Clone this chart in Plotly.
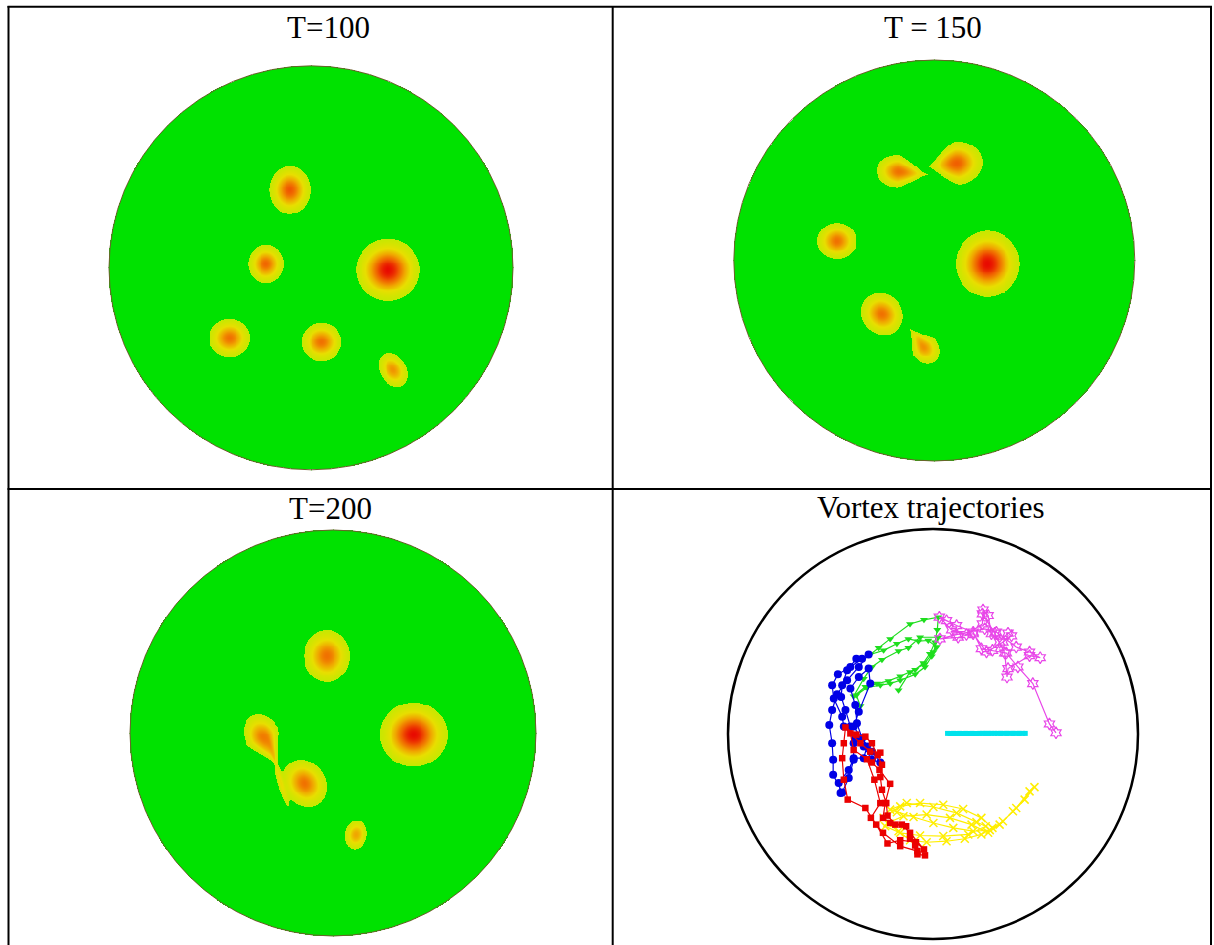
import numpy as np
import plotly.graph_objects as go

W, H = 1214, 945

# ---------------------------------------------------------------------------
# Vortex patches of the three snapshots (disc radius = 1).
# a: front semi-axis along the orientation angle, tail: rear semi-axis,
# b: cross semi-axis, sharp: how strongly the rear side tapers (0 = ellipse),
# peak: maximum vorticity of the patch.
# ---------------------------------------------------------------------------
t100_x = [-0.104, -0.223, 0.381, -0.403, 0.052, 0.406]
t100_y = [0.385, 0.019, -0.011, -0.348, -0.367, -0.505]
t100_a = [0.119, 0.094, 0.158, 0.101, 0.099, 0.090]
t100_tail = [0.119, 0.094, 0.158, 0.101, 0.099, 0.090]
t100_b = [0.101, 0.087, 0.153, 0.094, 0.094, 0.064]
t100_ang = [90, 90, 0, 0, 0, -60]
t100_sharp = [0, 0, 0, 0, 0, 0]
t100_peak = [0.82, 0.78, 1.0, 0.75, 0.75, 0.65]

t150_x = [-0.178, 0.112, -0.485, 0.266, -0.261, -0.052]
t150_y = [0.443, 0.485, 0.097, -0.017, -0.267, -0.432]
t150_a = [0.110, 0.128, 0.098, 0.165, 0.110, 0.090]
t150_tail = [0.150, 0.140, 0.098, 0.165, 0.110, 0.118]
t150_b = [0.082, 0.108, 0.090, 0.158, 0.099, 0.068]
t150_ang = [-6, 187, 0, 90, -45, 127]
t150_sharp = [0.85, 0.6, 0, 0, 0, 0.9]
t150_peak = [0.75, 0.8, 0.75, 1.0, 0.75, 0.66]

# the last T=200 patch is the thin filament trailing from the third one
t200_x = [-0.030, 0.397, -0.345, -0.140, 0.113, -0.262]
t200_y = [0.379, -0.008, -0.020, -0.248, -0.501, -0.222]
t200_a = [0.128, 0.167, 0.118, 0.123, 0.071, 0.120]
t200_tail = [0.128, 0.167, 0.155, 0.123, 0.071, 0.120]
t200_b = [0.113, 0.158, 0.088, 0.103, 0.054, 0.011]
t200_ang = [90, 0, -62, -55, 80, -74]
t200_sharp = [0, 0, 0.8, 0, 0, 0]
t200_peak = [0.75, 1.0, 0.72, 0.75, 0.6, 0.3]

# ---------------------------------------------------------------------------
# Vortex trajectories (disc radius = 1)
# ---------------------------------------------------------------------------
green_x = [-0.354, -0.374, -0.322, -0.257, -0.209, -0.160, -0.087, -0.039, -0.006, 0.018,
           -0.023, -0.071, -0.120, -0.176, -0.241, -0.306, -0.265, -0.209, -0.112, -0.044,
           0.026, 0.021, 0.010, -0.015, -0.047, -0.087, -0.160, -0.217, -0.273, -0.330,
           -0.387, -0.338, -0.298, -0.249, -0.168, -0.120, -0.063, 0.026, 0.002, -0.044,
           -0.112, -0.168]
green_y = [0.136, 0.189, 0.227, 0.238, 0.246, 0.262, 0.291, 0.327, 0.379, 0.424,
           0.456, 0.453, 0.464, 0.440, 0.408, 0.388, 0.421, 0.464, 0.537, 0.557,
           0.570, 0.508, 0.448, 0.392, 0.346, 0.314, 0.282, 0.259, 0.246, 0.230,
           0.184, 0.270, 0.327, 0.362, 0.405, 0.421, 0.472, 0.472, 0.400, 0.340,
           0.303, 0.214]

blue_x = [-0.314, -0.362, -0.419, -0.468, -0.492, -0.506, -0.492, -0.487, -0.487, -0.443,
          -0.411, -0.387, -0.387, -0.403, -0.427, -0.448, -0.443, -0.419, -0.374, -0.346,
          -0.403, -0.464, -0.492, -0.484, -0.443, -0.435, -0.379, -0.338, -0.298, -0.257,
          -0.298, -0.346, -0.371, -0.379, -0.403, -0.362, -0.314, -0.306, -0.362, -0.387,
          -0.322, -0.338, -0.387, -0.411, -0.460, -0.451]
blue_y = [0.388, 0.327, 0.262, 0.194, 0.117, 0.044, -0.045, -0.126, -0.199, -0.285,
          -0.215, -0.126, -0.045, 0.036, 0.117, 0.181, 0.238, 0.311, 0.367, 0.367,
          0.327, 0.291, 0.238, 0.173, 0.084, 0.036, -0.021, -0.061, -0.126, -0.139,
          -0.086, -0.021, 0.052, 0.141, 0.222, 0.278, 0.319, 0.246, 0.108, 0.036,
          -0.061, -0.118, -0.118, -0.175, -0.239, -0.288]

red_x = [-0.039, -0.076, -0.087, -0.112, -0.131, -0.184, -0.222, -0.228, -0.249, -0.257,
         -0.249, -0.270, -0.298, -0.330, -0.374, -0.427, -0.435, -0.443, -0.435, -0.416,
         -0.330, -0.277, -0.222, -0.160, -0.083, -0.044, -0.112, -0.152, -0.209, -0.244,
         -0.233, -0.209, -0.261, -0.298, -0.257, -0.306, -0.354, -0.403, -0.387, -0.322,
         -0.286, -0.257, -0.303, -0.244, -0.160, -0.076]
red_y = [-0.592, -0.587, -0.544, -0.511, -0.450, -0.442, -0.398, -0.337, -0.272, -0.210,
         -0.150, -0.102, -0.045, -0.013, -0.003, 0.032, -0.045, -0.118, -0.223, -0.320,
         -0.361, -0.442, -0.534, -0.518, -0.528, -0.563, -0.482, -0.442, -0.434, -0.409,
         -0.337, -0.243, -0.175, -0.139, -0.091, -0.086, -0.045, 0.003, -0.078, -0.123,
         -0.223, -0.337, -0.409, -0.482, -0.547, -0.571]

yellow_x = [-0.241, -0.160, -0.063, 0.050, 0.147, 0.236, 0.290, 0.236, 0.155, 0.066,
            -0.031, -0.112, -0.168, -0.222, -0.144, -0.031, 0.083, 0.188, 0.269, 0.325,
            0.390, 0.447, 0.495, 0.471, 0.406, 0.341, 0.277, 0.196, 0.099, 0.002,
            -0.095, -0.176, -0.209, -0.128, 0.002, 0.115, 0.212, 0.257, 0.172, 0.050,
            -0.063, -0.160, -0.233]
yellow_y = [-0.409, -0.353, -0.337, -0.345, -0.366, -0.409, -0.458, -0.490, -0.511, -0.523,
            -0.528, -0.518, -0.474, -0.434, -0.401, -0.393, -0.409, -0.442, -0.482, -0.442,
            -0.377, -0.320, -0.259, -0.280, -0.361, -0.426, -0.469, -0.474, -0.458, -0.434,
            -0.405, -0.382, -0.369, -0.337, -0.356, -0.385, -0.430, -0.450, -0.490, -0.498,
            -0.495, -0.482, -0.450]

magenta_x = [0.600, 0.568, 0.487, 0.414, 0.358, 0.290, 0.236, 0.196, 0.115, 0.066,
             0.031, 0.091, 0.163, 0.241, 0.244, 0.269, 0.285, 0.325, 0.366, 0.383,
             0.341, 0.261, 0.196, 0.123, 0.034, 0.115, 0.252, 0.309, 0.406, 0.471,
             0.523, 0.471, 0.366, 0.361, 0.350, 0.301, 0.241]
magenta_y = [0.006, 0.049, 0.246, 0.327, 0.395, 0.408, 0.416, 0.497, 0.529, 0.553,
             0.570, 0.508, 0.485, 0.537, 0.605, 0.578, 0.489, 0.448, 0.492, 0.479,
             0.448, 0.400, 0.489, 0.472, 0.464, 0.485, 0.513, 0.497, 0.424, 0.400,
             0.372, 0.382, 0.319, 0.278, 0.395, 0.492, 0.586]

# central vortex: nearly stationary, three short runs of positions
cyan_x = [0.071, 0.100, 0.130, 0.160, 0.190, 0.228, None,
          0.241, 0.263, 0.285, None,
          0.301, 0.330, 0.360, 0.390, 0.420, 0.450]
cyan_y = [0.003, 0.003, 0.003, 0.003, 0.003, 0.003, None,
          0.003, 0.003, 0.003, None,
          0.003, 0.003, 0.003, 0.003, 0.003, 0.003]

titles = ["T=100", "T = 150", "T=200", "Vortex trajectories"]

# ---------------------------------------------------------------------------
THR = 0.15


def vorticity(X, Y, xs, ys, a, tail, b, ang, sharp, peak):
    Z = np.zeros_like(X)
    for i in range(len(xs)):
        th = np.deg2rad(ang[i])
        dx, dy = X - xs[i], Y - ys[i]
        u = dx * np.cos(th) + dy * np.sin(th)
        v = -dx * np.sin(th) + dy * np.cos(th)
        s = np.clip(u / tail[i], 0, None)
        g = np.where(u > 0, np.clip(1 - s, 1e-4, None) ** sharp[i], 1.0)
        q = np.where(u > 0, s ** 2, (u / a[i]) ** 2) + (v / (b[i] * g)) ** 2
        Z += peak[i] * np.exp(np.log(THR / peak[i]) * np.minimum(q, 60))
    return Z


N = 421
grid = np.linspace(-1, 1, N)
GX, GY = np.meshgrid(grid, grid)
outside = GX ** 2 + GY ** 2 > 1.0

fields = []
for prm in [
    (t100_x, t100_y, t100_a, t100_tail, t100_b, t100_ang, t100_sharp, t100_peak),
    (t150_x, t150_y, t150_a, t150_tail, t150_b, t150_ang, t150_sharp, t150_peak),
    (t200_x, t200_y, t200_a, t200_tail, t200_b, t200_ang, t200_sharp, t200_peak),
]:
    Z = vorticity(GX, GY, *prm)
    Z = np.clip(Z, 0, 1).astype(np.float32)
    Z[outside] = np.nan
    fields.append(Z)

colorscale = [
    [0.0, "rgb(0,226,0)"],
    [0.1495, "rgb(0,226,0)"],
    [0.15, "rgb(198,232,0)"],
    [0.40, "rgb(232,222,0)"],
    [0.60, "rgb(240,165,0)"],
    [0.80, "rgb(240,95,0)"],
    [1.0, "rgb(232,10,0)"],
]

# panel placement: centre and radius of each disc, in page pixels
panels = [(311.0, 267.8, 202.0), (934.3, 260.5, 200.5), (333.0, 733.0, 203.0), (933.0, 734.0, 205.0)]
EXT = 1.02

fig = go.Figure()
layout_axes = {}
for k, (cx, cy, R) in enumerate(panels, start=1):
    sfx = "" if k == 1 else str(k)
    layout_axes["xaxis" + sfx] = dict(
        domain=[(cx - EXT * R) / W, (cx + EXT * R) / W], range=[-EXT, EXT],
        visible=False, fixedrange=True, anchor="y" + sfx)
    layout_axes["yaxis" + sfx] = dict(
        domain=[1 - (cy + EXT * R) / H, 1 - (cy - EXT * R) / H], range=[-EXT, EXT],
        visible=False, fixedrange=True, anchor="x" + sfx)

for k, Z in enumerate(fields, start=1):
    sfx = "" if k == 1 else str(k)
    fig.add_trace(go.Heatmap(
        x=grid, y=grid, z=Z, colorscale=colorscale, zmin=0, zmax=1,
        showscale=False, hoverinfo="skip", xaxis="x" + sfx, yaxis="y" + sfx))

traj = [
    (yellow_x, yellow_y, "rgb(255,238,0)", dict(symbol="x-thin", size=8,
                                              line=dict(width=1.5, color="rgb(255,238,0)"))),
    (green_x, green_y, "rgb(30,222,30)", dict(symbol="triangle-down", size=7, color="rgb(30,222,30)")),
    (magenta_x, magenta_y, "rgb(232,70,232)", dict(symbol="hexagram-open", size=9,
                                                  color="rgb(232,70,232)", line=dict(width=1.2))),
    (blue_x, blue_y, "rgb(0,0,230)", dict(symbol="circle", size=8, color="rgb(0,0,230)")),
    (red_x, red_y, "rgb(235,0,0)", dict(symbol="square", size=6.5, color="rgb(235,0,0)")),
]
for xs, ys, col, mk in traj:
    fig.add_trace(go.Scatter(x=xs, y=ys, mode="lines+markers", line=dict(color=col, width=1.2),
                             marker=mk, hoverinfo="skip", xaxis="x4", yaxis="y4", showlegend=False))
fig.add_trace(go.Scatter(x=cyan_x, y=cyan_y, mode="lines+markers",
                         line=dict(color="rgb(0,226,236)", width=5),
                         marker=dict(symbol="square", size=5, color="rgb(0,226,236)"),
                         hoverinfo="skip", xaxis="x4", yaxis="y4", showlegend=False))

shapes = []
# disc outlines
for k in range(1, 5):
    sfx = "" if k == 1 else str(k)
    if k < 4:
        ln = dict(color="rgb(110,95,45)", width=1)
    else:
        ln = dict(color="black", width=2.5)
    shapes.append(dict(type="circle", xref="x" + sfx, yref="y" + sfx,
                       x0=-1, y0=-1, x1=1, y1=1, line=ln, layer="above"))


# table rules
def vline(px, py0, py1):
    return dict(type="line", xref="paper", yref="paper", x0=px / W, x1=px / W,
                y0=1 - py0 / H, y1=1 - py1 / H, line=dict(color="black", width=2))


def hline(py, px0, px1):
    return dict(type="line", xref="paper", yref="paper", x0=px0 / W, x1=px1 / W,
                y0=1 - py / H, y1=1 - py / H, line=dict(color="black", width=2))


shapes += [vline(8.5, 6, 945), vline(612.7, 6, 945), vline(1211, 6, 945),
           hline(6.8, 7.5, 1212), hline(489, 7.5, 1212)]

title_pos = [(329, 27.5), (933, 27.5), (330, 508.5), (931, 507.5)]
annotations = [
    dict(text=t, x=px / W, y=1 - py / H, xref="paper", yref="paper",
         xanchor="center", yanchor="middle", showarrow=False,
         font=dict(family="Liberation Serif, Times New Roman, serif", size=31, color="black"))
    for t, (px, py) in zip(titles, title_pos)
]

fig.update_layout(
    width=W, height=H, margin=dict(l=0, r=0, t=0, b=0),
    paper_bgcolor="white", plot_bgcolor="rgba(0,0,0,0)",
    showlegend=False, shapes=shapes, annotations=annotations, **layout_axes)

fig.write_html("out.html", config={"displayModeBar": False})
